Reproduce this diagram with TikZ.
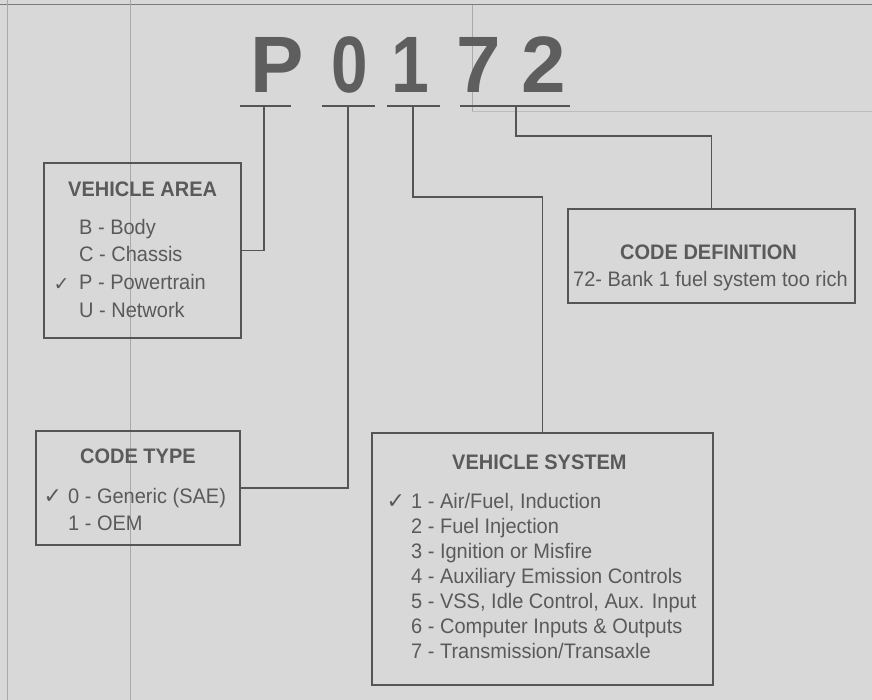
\documentclass[tikz,border=0pt]{standalone}
\usepackage{fontspec}
\setmainfont{Liberation Sans}[FakeStretch=0.952]
\newfontfamily\bigfont{Liberation Sans}
\newfontfamily\dvfont{DejaVu Sans}
\definecolor{bgcol}{HTML}{D8D8D8}
\definecolor{lncol}{HTML}{555555}
\definecolor{txcol}{HTML}{5A5A5A}
\definecolor{bigcol}{HTML}{5E5E5E}
\definecolor{faintcol}{HTML}{A9A9A9}
\begin{document}
\begin{tikzpicture}[x=1pt,y=-1pt,
  ln/.style={draw=lncol, line width=1.5pt},
  uline/.style={draw=lncol, line width=2pt},
  box/.style={draw=lncol, line width=1.5pt, rectangle, inner sep=0pt},
  hd/.style={inner sep=0pt, anchor=base west, text=txcol, font=\fontsize{21}{24}\selectfont\bfseries},
  itm/.style={inner sep=0pt, anchor=base west, text=txcol, font=\fontsize{21}{24}\selectfont},
  ck/.style={inner sep=0pt, anchor=base west, text=txcol, font=\dvfont\fontsize{22}{24}\selectfont},
  big/.style={inner sep=0pt, anchor=base, text=bigcol, font=\bigfont\fontsize{80}{90}\selectfont\bfseries},
  faint/.style={draw=faintcol, line width=1pt}]
\fill[bgcol] (0,0) rectangle (872,700);
\useasboundingbox (0,0) rectangle (872,700);
% faint page lines
\draw[faint, draw=lncol!70!bgcol] (0,5) -- (872,5);
\draw[faint] (7,0) -- (7,700);
\draw[faint] (130,0) -- (130,700);
\draw[faint] (472,5) -- (472,112);
\draw[faint, draw=faintcol!60!bgcol] (472,112) -- (872,112);

% big code letters
\node[big] (cP) at (277.5,93) {P};
\node[big] (c0) at (350,93) {\scalebox{0.82}[1]{0}};
\node[big] (c1) at (410,93) {\scalebox{0.85}[1]{1}};
\node[big] (c7) at (478.5,93) {7};
\node[big] (c2) at (544,93) {2};

% underlines
\coordinate (uPa) at (240,106); \coordinate (uPb) at (291,106); \coordinate (uP) at (264,106);
\coordinate (u0a) at (322,106); \coordinate (u0b) at (375,106); \coordinate (u0) at (348,106);
\coordinate (u1a) at (387,106); \coordinate (u1b) at (440,106); \coordinate (u1) at (413,106);
\coordinate (u7a) at (460,106); \coordinate (u7b) at (570,106); \coordinate (u7) at (516,106);
\draw[uline] (uPa) -- (uPb);
\draw[uline] (u0a) -- (u0b);
\draw[uline] (u1a) -- (u1b);
\draw[uline] (u7a) -- (u7b);

% boxes
\node[box, minimum width=197pt, minimum height=175pt] (VA) at (142.5,250.5) {};
\node[box, minimum width=204pt, minimum height=114pt] (CT) at (138,488) {};
\node[box, minimum width=287pt, minimum height=94pt] (CD) at (711.5,256) {};
\node[box, minimum width=341pt, minimum height=252pt] (VS) at (542.5,559) {};

% connectors
\draw[ln] (uP) |- (VA.east);
\draw[ln] (u0) |- (CT.east);
\draw[ln] (u1) -- ++(0,91) -| (VS.north);
\draw[ln] (u7) -- ++(0,30) -| (CD.north);

% VEHICLE AREA
\node[hd] (vah) at (68,197) {VEHICLE AREA};
\node[itm] (va1) at (79,235) {B - Body};
\node[itm] (va2) at (79,262) {C - Chassis};
\node[itm] (va3) at (79,290) {P - Powertrain};
\node[itm] (va4) at (79,317) {U - Network};
\node[ck, font=\dvfont\fontsize{19}{22}\selectfont] (vack) at (53.5,291) {✓};

% CODE TYPE
\node[hd] (cth) at (80,463) {CODE TYPE};
\node[itm] (ct1) at (68,503) {0 - Generic (SAE)};
\node[itm] (ct2) at (68,530) {1 - OEM};
\node[ck] (ctck) at (43.5,503) {✓};

% CODE DEFINITION
\node[hd] (cdh) at (620,260) {CODE DEFINITION};
\node[itm] (cd1) at (573,287) {72- Bank 1 fuel system too rich};

% VEHICLE SYSTEM
\node[hd] (vsh) at (452,469) {VEHICLE SYSTEM};
\node[ck] (vsck) at (386.5,508) {✓};
\foreach \t [count=\i from 0] in {{1 - Air/Fuel, Induction},{2 - Fuel Injection},{3 - Ignition or Misfire},{4 - Auxiliary Emission Controls},{5 - VSS, Idle Control, Aux. Input},{6 - Computer Inputs \& Outputs},{7 - Transmission/Transaxle}}
  \node[itm] (vs\i) at (411,508+25*\i) {\t};
\end{tikzpicture}
\end{document}
